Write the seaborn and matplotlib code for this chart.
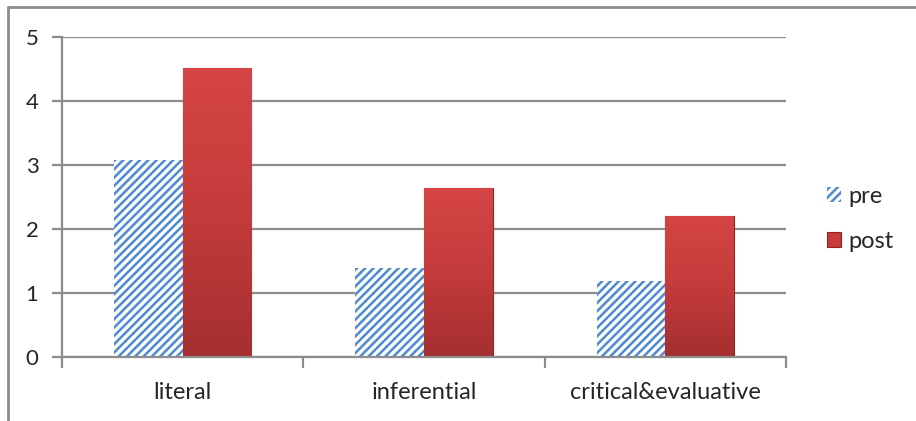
import numpy as np
import pandas as pd
import matplotlib
matplotlib.use('Agg')
import matplotlib.pyplot as plt
import seaborn as sns
from matplotlib.lines import Line2D
from matplotlib.patches import Patch
from matplotlib.colors import LinearSegmentedColormap

categories = ['literal', 'inferential', 'critical&evaluative']
pre = [3.08, 1.39, 1.19]
post = [4.52, 2.64, 2.20]
series = ['pre', 'post']

df = pd.DataFrame({
    'category': categories * 2,
    'series': ['pre'] * 3 + ['post'] * 3,
    'value': pre + post,
})

sns.set_style('white')
plt.rcParams['font.family'] = ['Lato', 'DejaVu Sans']
plt.rcParams['hatch.linewidth'] = 1.8

grid_gray = '#8c8c8c'
blue = '#4f8ad0'
red = '#c83c3c'
red_grad = LinearSegmentedColormap.from_list('redgrad', ['#a52f2f', '#c43b3b', '#d64545'])

fig = plt.figure(figsize=(9.16, 4.21), dpi=100)
ax = fig.add_axes([0.0677, 0.152, 0.7905, 0.760])

sns.barplot(data=df, x='category', y='value', hue='series', order=categories,
            hue_order=series, palette={'pre': 'white', 'post': red},
            width=0.57, gap=0, legend=False, ax=ax, saturation=1)

ax.set_ylim(0, 5)
ax.set_xlim(-0.5, 2.5)

# pre bars hatched, post bars with a vertical gradient
n = len(categories)
grad = np.linspace(0, 1, 256).reshape(-1, 1)
for i, bar in enumerate(list(ax.patches)):
    if i < n:
        bar.set_facecolor('white')
        bar.set_edgecolor(blue)
        bar.set_hatch('////')
        bar.set_linewidth(0)
    else:
        bar.set_facecolor(red)
        bar.set_edgecolor('#8e2424')
        bar.set_linewidth(0.8)
        x0, w, h = bar.get_x(), bar.get_width(), bar.get_height()
        im = ax.imshow(grad, cmap=red_grad, origin='lower', aspect='auto',
                       extent=(x0, x0 + w, 0, h), zorder=bar.get_zorder() + 0.1)
        im.set_clip_path(bar)

ax.set_xlim(-0.5, 2.5)
ax.set_ylim(0, 5)
ax.set_yticks(range(6))
ax.yaxis.grid(True, color=grid_gray, linewidth=1.6)
ax.set_axisbelow(True)
ax.set_xlabel('')
ax.set_ylabel('')

for s in ['top', 'right']:
    ax.spines[s].set_visible(False)
for s in ['left', 'bottom']:
    ax.spines[s].set_color(grid_gray)
    ax.spines[s].set_linewidth(1.6)

ax.tick_params(axis='y', length=7, width=1.6, color=grid_gray, labelsize=16, pad=10, left=True)
ax.tick_params(axis='x', which='major', length=0, labelsize=17, pad=18)
ax.set_xticks([-0.5, 0.5, 1.5, 2.5], minor=True)
ax.tick_params(axis='x', which='minor', length=8, width=1.6, color=grid_gray, bottom=True)

handles = [Patch(facecolor='white', edgecolor=blue, hatch='////', linewidth=0),
           Patch(facecolor=red, edgecolor='#8e2424', linewidth=0.8)]
fig.legend(handles, series, loc='center left', bbox_to_anchor=(0.88, 0.48),
           frameon=False, fontsize=17, handlelength=0.6, handleheight=0.6,
           handletextpad=0.3, labelspacing=1.0)

fig.add_artist(Line2D([0.009, 0.009], [0.0, 0.983], color=grid_gray, linewidth=2))
fig.add_artist(Line2D([0.009, 1.0], [0.983, 0.983], color=grid_gray, linewidth=2))

fig.savefig('out.png', dpi=100)
